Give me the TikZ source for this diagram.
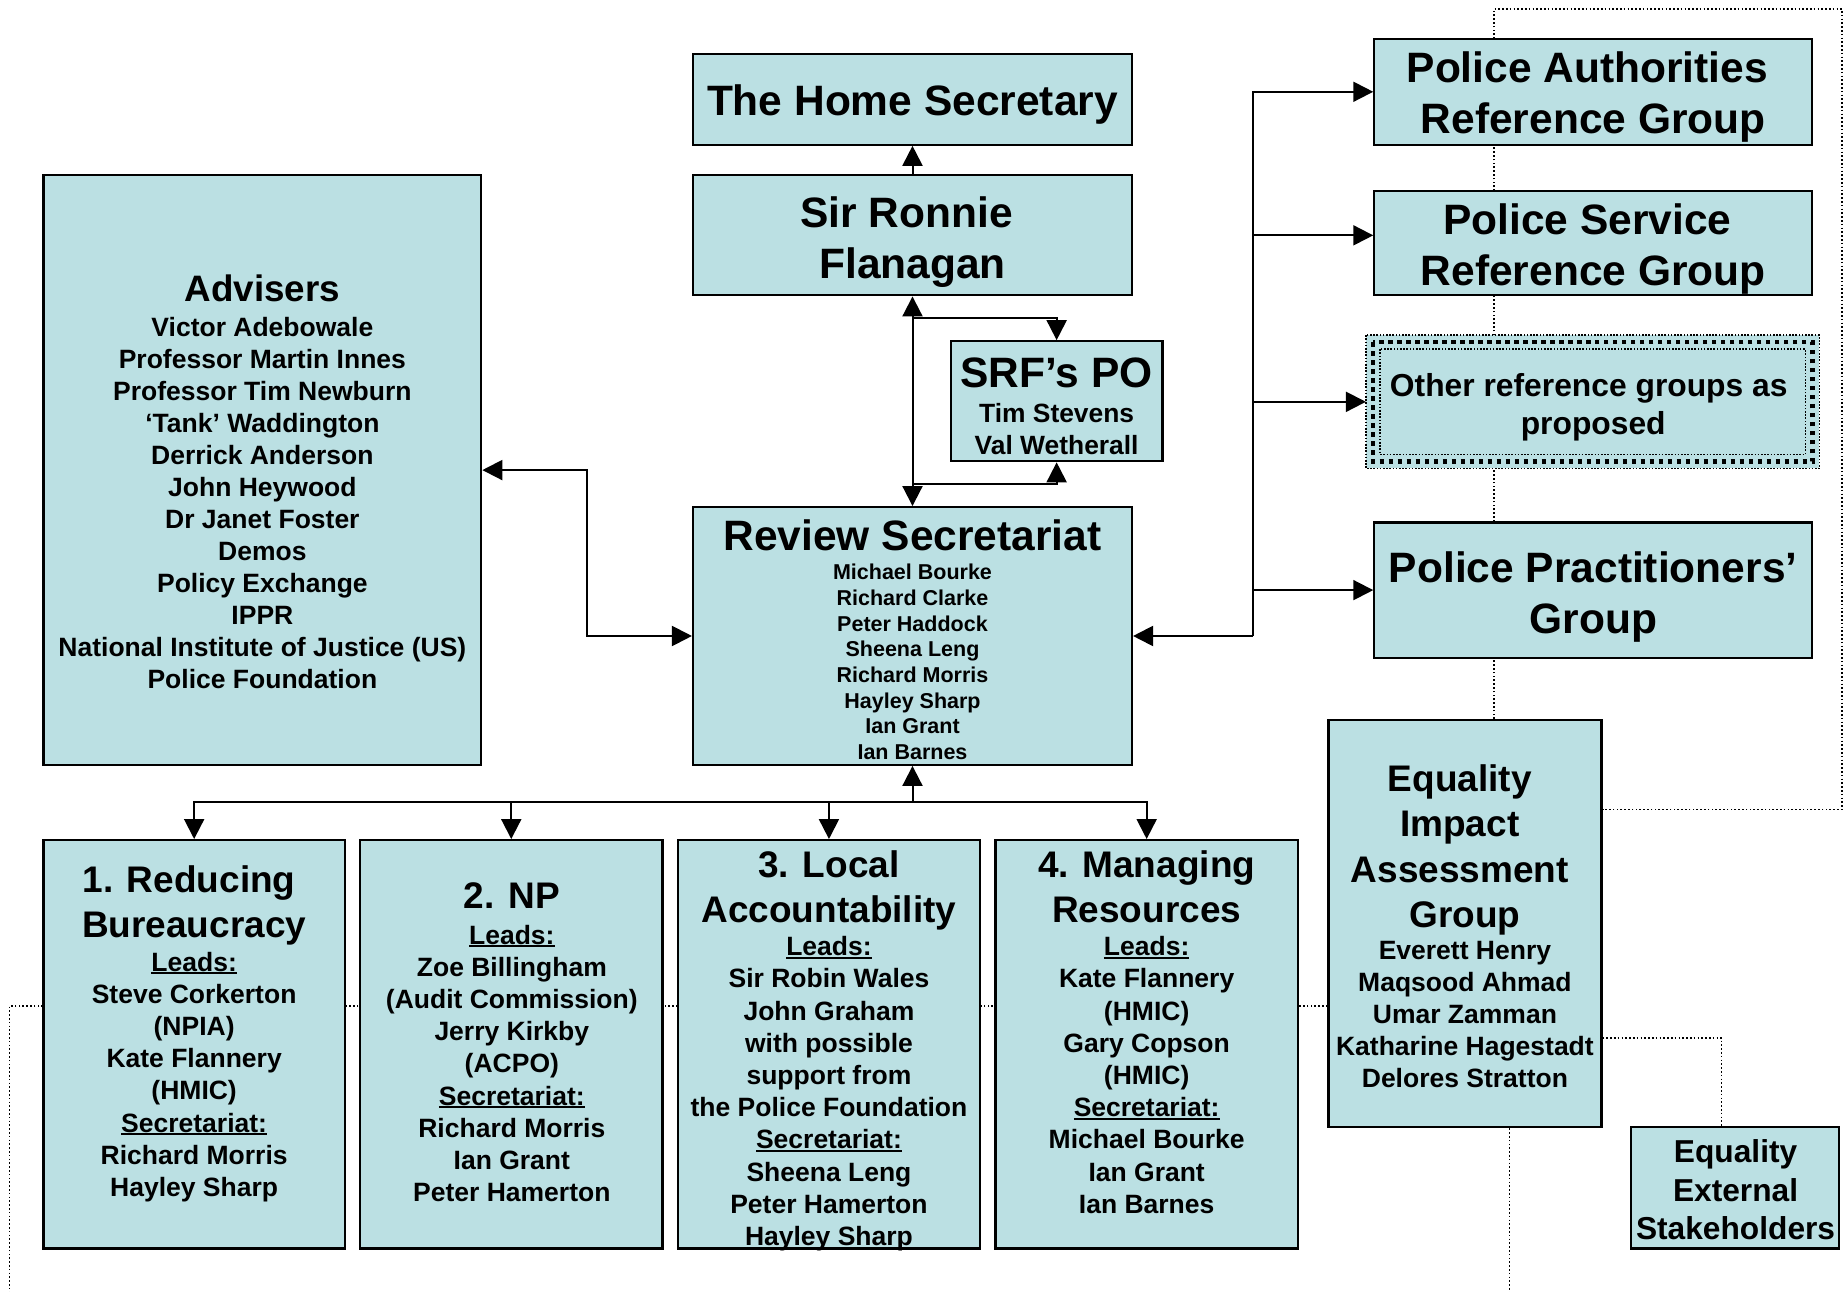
\documentclass[tikz,border=0pt]{standalone}
\usepackage{fontspec}
\setmainfont{Liberation Sans}
\usetikzlibrary{arrows.meta,fit,calc,backgrounds}
\definecolor{boxfill}{RGB}{187,224,227}
\newcommand\ftTitle{\fontsize{42.5}{51}\selectfont\bfseries}
\newcommand\ftSub{\fontsize{37}{45.5}\selectfont\bfseries}
\newcommand\ftAdv{\fontsize{36.8}{44}\selectfont\bfseries}
\newcommand\ftName{\fontsize{26.5}{32.2}\selectfont\bfseries}
\newcommand\ftNameB{\fontsize{26.5}{32}\selectfont\bfseries}
\newcommand\ftPO{\fontsize{26.4}{31.8}\selectfont\bfseries}
\newcommand\ftSmall{\fontsize{21.5}{25.7}\selectfont\bfseries}
\newcommand\ftOther{\fontsize{31.8}{37.7}\selectfont\bfseries}
\newcommand\ftEES{\fontsize{31.7}{38.8}\selectfont\bfseries}
\newcommand\myUL[1]{\setbox0=\hbox{#1}\rlap{\rule[-3.4pt]{\wd0}{2.4pt}}\box0}
\newcommand\tsp{\kern0.278em}
\begin{document}
\begin{tikzpicture}[x=1.1767pt,y=-1.1767pt,
  box/.style={draw=black, line width=2.2pt, fill=boxfill, inner sep=0pt},
  conn/.style={line width=2pt},
  arr/.style={-{Triangle[width=20pt,length=20pt]}},
  dblarr/.style={{Triangle[width=20pt,length=20pt]}-{Triangle[width=20pt,length=20pt]}},
  dotln/.style={line width=1.6pt, dash pattern=on 1.6pt off 2.2pt},
  thinrect/.style={line width=1.6pt, dash pattern=on 1.6pt off 1.6pt},
  thickrect/.style={line width=4.5pt, dash pattern=on 4.5pt off 4.5pt},
  txt/.style={anchor=north, inner sep=0pt, align=center, yshift=#1}]
\useasboundingbox (0,0) rectangle (1568,1098);
% ---------- boxes
\node[box, fit={(589,46) (962,123)}] (hs) {};
\node[box, fit={(589,149) (962,251)}] (srf) {};
\node[box, fit={(808,290) (988,392)}] (po) {};
\node[box, fit={(589,431) (962,650)}] (rev) {};
\node[box, fit={(37,149) (409,650)}] (adv) {};
\node[box, fit={(1168,33) (1540,123)}] (pa) {};
\node[box, fit={(1168,162) (1540,251)}] (ps) {};
\node[box, fit={(1168,444) (1540,559)}] (pp) {};
\node[box, fit={(1129,612) (1361,958)}] (eia) {};
\node[box, fit={(1386,958) (1563,1061)}] (ees) {};
\node[box, fit={(37,714) (293,1061)}] (b1) {};
\node[box, fit={(306,714) (563,1061)}] (b2) {};
\node[box, fit={(576,714) (833,1061)}] (b3) {};
\node[box, fit={(846,714) (1103,1061)}] (b4) {};
\node[fill=boxfill, inner sep=0pt, fit={(1161,285) (1546,398)}] (oth) {};
\draw[thinrect] (oth.north west) rectangle (oth.south east);
\draw[thickrect] ([shift={(7pt,-7pt)}]oth.north west) rectangle ([shift={(-7pt,7pt)}]oth.south east);
\draw[thinrect] ([shift={(14pt,-14pt)}]oth.north west) rectangle ([shift={(-14pt,14pt)}]oth.south east);
% ---------- dotted lines (behind boxes)
\coordinate (d1) at (1269.7,7.6);
\coordinate (d2) at (1565.4,7.6);
\coordinate (d3) at (1565.4,688);
\coordinate (d4) at (8,855);
\coordinate (d5) at (8,1098);
\coordinate (d6) at (1283,1098);
\coordinate (d7) at (1463,882);
\begin{scope}[on background layer]
\draw[dotln] (eia.north -| d1) -- (d1) -- (d2) -- (d3) -- (eia.east |- d3);
\draw[dotln] (eia.west |- d4) -- (d4) -- (d5);
\draw[dotln] (eia.south -| d6) -- (d6);
\draw[dotln] (eia.east |- d7) -- (d7) -- (ees.north -| d7);
\end{scope}
% ---------- connectors
\draw[conn,arr] (srf.north) -- (hs.south);
\draw[conn,dblarr] (srf.south) -- (rev.north);
\coordinate (pj1) at (775.5,270);
\coordinate (pj2) at (775.5,411);
\draw[conn,arr] (pj1) -| (po.north);
\draw[conn,arr] (pj2) -| (po.south);
\coordinate (am) at ($(adv.east)!0.5!(rev.west)$);
\draw[conn,dblarr] (adv.east) -| (am) |- (rev.west);
\coordinate (rj) at (1065,540.5);
\draw[conn,arr] (rj) -- (rev.east);
\draw[conn,arr] (rj) |- (pa.west);
\draw[conn,arr] (rj) |- (ps.west |- 0,200);
\draw[conn,arr] (rj) |- (oth.west);
\draw[conn,arr] (rj) |- (pp.west);
\coordinate (bj) at (775.5,682);
\draw[conn,arr] (bj) -- (rev.south);
\draw[conn,arr] (bj) -| (b1.north);
\draw[conn,arr] (bj) -| (b2.north);
\draw[conn,arr] (bj) -| (b3.north);
\draw[conn,arr] (bj) -| (b4.north);
% ---------- texts
\node[txt=35.7pt, font=\ftTitle] (ths) at (775.5,97.9) {\strut The Home Secretary};
\node[txt=35.7pt, font=\ftTitle] (tsrf) at (775.5,192.8) {\strut Sir Ronnie\tsp\\Flanagan};
\node[txt=35.7pt, font=\ftTitle] (tpo) at (898,328.9) {\strut SRF’s PO};
\node[txt=22.26pt, font=\ftPO] (tpon) at (898,359) {\strut Tim Stevens\\Val Wetherall};
\node[txt=35.7pt, font=\ftTitle] (trev) at (775.5,467.9) {\strut Review Secretariat};
\node[txt=17.99pt, font=\ftSmall] (trevn) at (775.5,492.5) {\strut Michael Bourke\\Richard Clarke\\Peter Haddock\\Sheena Leng\\Richard Morris\\Hayley Sharp\\Ian Grant\\Ian Barnes};
\node[txt=30.8pt, font=\ftAdv] (tadv) at (223,256.2) {\strut Advisers};
\node[txt=22.4pt, font=\ftNameB] (tadvn) at (223,286.1) {\strut Victor Adebowale\\Professor Martin Innes\\Professor Tim Newburn\\‘Tank’ Waddington\\Derrick Anderson\\John Heywood\\Dr Janet Foster\\Demos\\Policy Exchange\\IPPR\\National Institute of Justice (US)\\Police Foundation};
\node[txt=35.7pt, font=\ftTitle] (tpa) at (1354,69.9) {\strut Police Authorities\tsp\\Reference Group};
\node[txt=35.7pt, font=\ftTitle] (tps) at (1354,198.9) {\strut Police Service\tsp\\Reference Group};
\node[txt=26.39pt, font=\ftOther] (toth) at (1354,336.7) {\strut Other reference groups as\tsp\\proposed};
\node[txt=35.7pt, font=\ftTitle] (tpp) at (1354,494.9) {\strut Police Practitioners’\\Group};
\node[txt=31.85pt, font=\ftSub] (teia) at (1245,672.3) {\strut Equality\tsp\\Impact\tsp\\Assessment\tsp\\Group};
\node[txt=22.4pt, font=\ftNameB] (teian) at (1245,815) {\strut Everett Henry\\Maqsood Ahmad\\Umar Zamman\\Katharine Hagestadt\\Delores Stratton};
\node[txt=27.16pt, font=\ftEES] (tees) at (1475,987.6) {\strut Equality\\External\\Stakeholders};
\node[txt=31.85pt, font=\ftSub] (tb1) at (165,758.3) {\strut 1. Reducing\tsp\\Bureaucracy};
\node[txt=22.54pt, font=\ftName] (tb1n) at (165,825.1) {\strut\myUL{Leads:}\\Steve Corkerton\\(NPIA)\\Kate Flannery\\(HMIC)\\\myUL{Secretariat:}\\Richard Morris\\Hayley Sharp};
\node[txt=31.85pt, font=\ftSub] (tb2) at (435,772.3) {\strut 2. NP};
\node[txt=22.54pt, font=\ftName] (tb2n) at (435,802.1) {\strut\myUL{Leads:}\\Zoe Billingham\\(Audit Commission)\\Jerry Kirkby\\(ACPO)\\\myUL{Secretariat:}\\Richard Morris\\Ian Grant\\Peter Hamerton};
\node[txt=31.85pt, font=\ftSub] (tb3) at (704.5,745.3) {\strut 3. Local\\Accountability};
\node[txt=22.54pt, font=\ftName] (tb3n) at (704.5,812.1) {\strut\myUL{Leads:}\\Sir Robin Wales\\John Graham\\with possible\\support from\\the Police Foundation\\\myUL{Secretariat:}\\Sheena Leng\\Peter Hamerton\\Hayley Sharp};
\node[txt=31.85pt, font=\ftSub] (tb4) at (974.5,745.3) {\strut 4. Managing\\Resources};
\node[txt=22.54pt, font=\ftName] (tb4n) at (974.5,812.1) {\strut\myUL{Leads:}\\Kate Flannery\\(HMIC)\\Gary Copson\\(HMIC)\\\myUL{Secretariat:}\\Michael Bourke\\Ian Grant\\Ian Barnes};
\end{tikzpicture}
\end{document}
